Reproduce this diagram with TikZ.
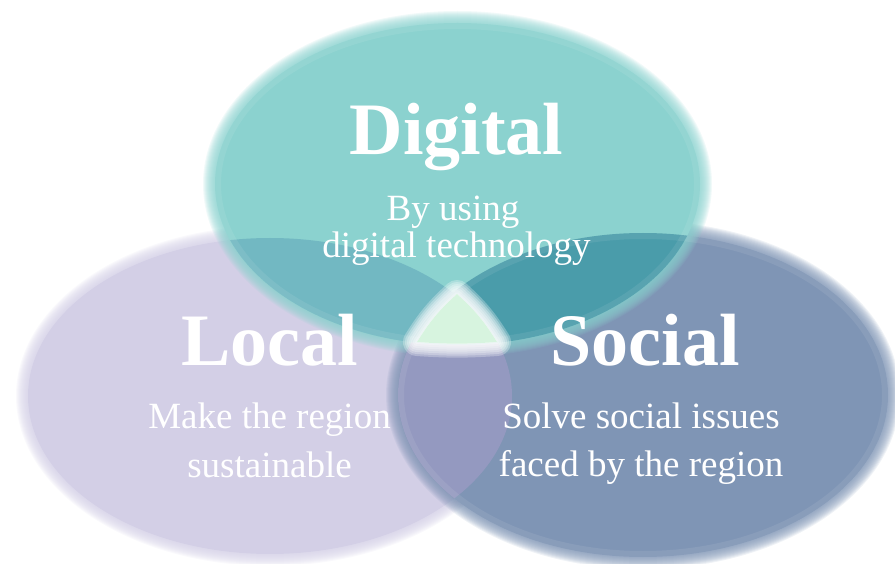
\documentclass[tikz,border=0pt]{standalone}
\usepackage{fontspec}
\setmainfont{Liberation Serif}
\usepackage{tikz}
\usetikzlibrary{positioning}
\definecolor{digitalc}{HTML}{8BD2CF}
\definecolor{localc}{HTML}{D3CFE6}
\definecolor{socialc}{HTML}{7F95B5}
\definecolor{dlc}{HTML}{72B8C2}
\definecolor{dsc}{HTML}{4A9CAA}
\definecolor{lsc}{HTML}{9499C0}
\definecolor{corec}{HTML}{D7F4DF}
\newcommand{\corepath}{(457,294) to[bend right=8] (417,342) to[bend right=4] (497,342) to[bend right=8] cycle}
\tikzset{title/.style={text=white,font=\bfseries\fontsize{74}{80}\selectfont,anchor=base,inner sep=0pt},
         subtitle/.style={text=white,font=\fontsize{37}{40}\selectfont,anchor=base,inner sep=0pt},
         dset/.style={x radius=242.5+#1,y radius=161+#1},
         lset/.style={x radius=242+#1,y radius=158+#1},
         sset/.style={x radius=245+#1,y radius=162+#1}}

\begin{document}
\begin{tikzpicture}[x=1pt,y=-1pt]
	\useasboundingbox (0,0) rectangle (895,564);
	\coordinate (dc) at (457.5,184);
	\coordinate (lc) at (270,396);
	\coordinate (sc) at (643,395);
	% soft edged sets
	\foreach \d in {12,11,...,1}
	  \fill[localc,opacity=0.12] (lc) ellipse [lset=\d];
	\fill[localc] (lc) ellipse [lset=0];
	\foreach \d in {12,11,...,1}
	  \fill[socialc,opacity=0.12] (sc) ellipse [sset=\d];
	\fill[socialc] (sc) ellipse [sset=0];
	\foreach \d in {12,11,...,1}
	  \fill[digitalc,opacity=0.12] (dc) ellipse [dset=\d];
	\fill[digitalc] (dc) ellipse [dset=0];
	% overlaps
	\begin{scope}
	  \clip (lc) ellipse [lset=0];
	  \fill[lsc] (sc) ellipse [sset=0];
	\end{scope}
	\begin{scope}
	  \clip (dc) ellipse [dset=0];
	  \fill[dlc] (lc) ellipse [lset=0];
	  \fill[dsc] (sc) ellipse [sset=0];
	\end{scope}
	\draw[white,opacity=0.08,line width=6pt] (dc) ellipse [dset=-3];
	\draw[white,opacity=0.08,line width=6pt] (sc) ellipse [sset=-3];
	% core
	\foreach \w in {28,24,...,4}
	  \draw[white,opacity=0.28,line width=\w pt,line join=round] \corepath;
	\fill[white] \corepath;
	\fill[corec] \corepath;
	% labels
	\node[title] (digital) at (456.5,155) {Digital};
	\node[subtitle] (digital-a) at (453,221) {By using};
	\node[subtitle] (digital-b) at ([yshift=-37pt]digital-a.base -| digital.base) {digital technology};
	\node[title] (local) at (269.5,365) {Local};
	\node[subtitle] (local-a) at (269.5,428) {Make the region};
	\node[subtitle] (local-b) at ([yshift=-49pt]local-a.base) {sustainable};
	\node[title] (social) at (645,365) {Social};
	\node[subtitle] (social-a) at (641,428) {Solve social issues};
	\node[subtitle] (social-b) at ([yshift=-48pt]social-a.base) {faced by the region};
\end{tikzpicture}
\end{document}
